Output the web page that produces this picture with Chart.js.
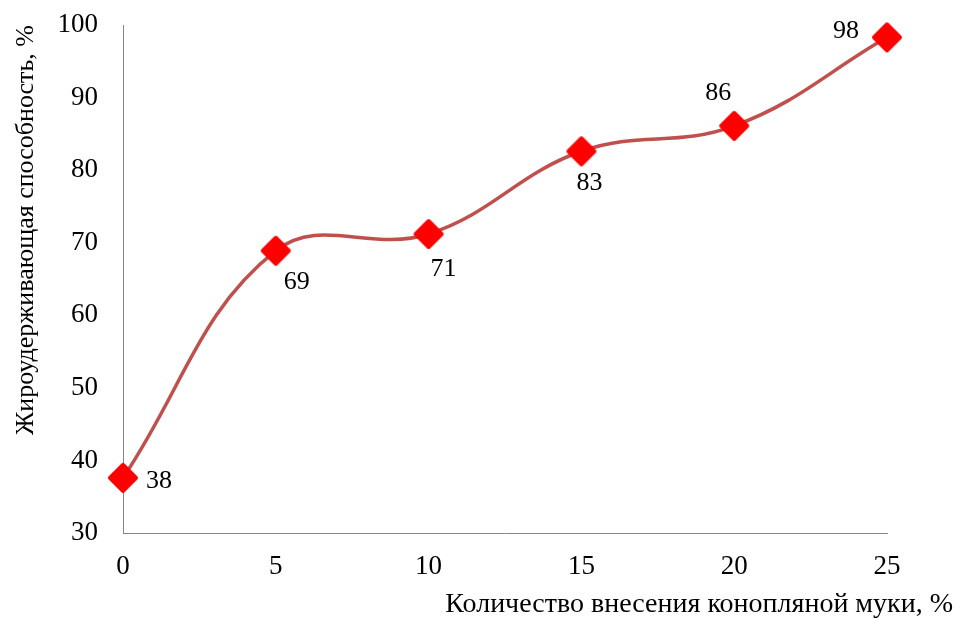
<!DOCTYPE html>
<html>
<head>
<meta charset="utf-8">
<script src="https://cdn.jsdelivr.net/npm/chart.js@4"></script>
<style>
  html, body { margin: 0; padding: 0; background: #fff; }
  #wrap { width: 955px; height: 619px; }
</style>
</head>
<body>
<div id="wrap"><canvas id="fatChart" width="955" height="619"></canvas></div>
<script>
// Доля конопляной муки, % и жироудерживающая способность, %
const flourShare = [0, 5, 10, 15, 20, 25];
const fatHolding = [37.6, 68.9, 71.2, 82.6, 86.1, 98.3];
const yTicks = [30, 40, 50, 60, 70, 80, 90, 100];

const xTitle = 'Количество внесения конопляной муки, %';
const yTitle = 'Жироудерживающая способность, %';

const lineColor = '#C0504D';
const markerColor = '#FF0000';
const axisColor = '#868686';
const textColor = '#000000';
const fontFamily = '"Liberation Serif", "Times New Roman", serif';

// смещения подписей значений относительно маркеров
const labelOffsets = [[36, 3], [21, 31], [15, 35], [8, 32], [-16, -33], [-41, -6]];

// маркер: ромб со скруглёнными углами
function makeDiamond() {
    const c = document.createElement('canvas');
    c.width = 32;
    c.height = 32;
    const ctx = c.getContext('2d');
    const r = 13;
    ctx.beginPath();
    ctx.moveTo(16, 16 - r);
    ctx.lineTo(16 + r, 16);
    ctx.lineTo(16, 16 + r);
    ctx.lineTo(16 - r, 16);
    ctx.closePath();
    ctx.fillStyle = markerColor;
    ctx.strokeStyle = markerColor;
    ctx.lineWidth = 4;
    ctx.lineJoin = 'round';
    ctx.fill();
    ctx.stroke();
    return c;
}

const valueLabels = {
    id: 'valueLabels',
    afterDatasetsDraw(chart) {
        const ctx = chart.ctx;
        const meta = chart.getDatasetMeta(0);
        ctx.save();
        ctx.font = '26px ' + fontFamily;
        ctx.fillStyle = textColor;
        ctx.textAlign = 'center';
        ctx.textBaseline = 'middle';
        meta.data.forEach((pt, i) => {
            const off = labelOffsets[i];
            ctx.fillText(String(Math.round(fatHolding[i])), pt.x + off[0], pt.y + off[1]);
        });
        ctx.restore();
    }
};

new Chart(document.getElementById('fatChart'), {
    type: 'line',
    data: {
        datasets: [{
            data: flourShare.map((x, i) => ({ x: x, y: fatHolding[i] })),
            borderColor: lineColor,
            borderWidth: 3.5,
            tension: 0.4,
            fill: false,
            pointStyle: makeDiamond(),
            pointRadius: 15,
            pointHoverRadius: 15,
            clip: false
        }]
    },
    options: {
        responsive: false,
        animation: false,
        layout: {
            autoPadding: false,
            padding: { top: 25, right: 2, bottom: 0, left: 11 }
        },
        plugins: {
            legend: { display: false },
            tooltip: { enabled: false },
            title: {
                display: true,
                text: xTitle,
                position: 'bottom',
                align: 'end',
                color: textColor,
                font: { family: fontFamily, size: 28, weight: 'normal', lineHeight: 1 },
                padding: { top: 5, bottom: 0 }
            }
        },
        scales: {
            x: {
                type: 'linear',
                min: 0,
                max: 25,
                afterFit(scale) {
                    scale.height = 53;
                    scale.paddingLeft = 0;
                    scale.paddingRight = 68;
                    scale.paddingTop = 0;
                    scale.paddingBottom = 0;
                },
                grid: { display: false, drawTicks: false },
                border: { display: true, color: axisColor, width: 1 },
                ticks: {
                    stepSize: 5,
                    padding: 18,
                    color: textColor,
                    font: { family: fontFamily, size: 27 }
                }
            },
            y: {
                min: 30,
                max: 100,
                afterBuildTicks(scale) { scale.ticks = yTicks.map(v => ({ value: v })); },
                afterFit(scale) {
                    scale.width = 112;
                    scale.paddingTop = 0;
                    scale.paddingBottom = 0;
                },
                grid: { display: false, drawTicks: false },
                border: { display: true, color: axisColor, width: 1 },
                title: {
                    display: true,
                    text: yTitle,
                    align: 'end',
                    color: textColor,
                    font: { family: fontFamily, size: 26 },
                    padding: { top: 0, bottom: 17 }
                },
                ticks: {
                    padding: 25,
                    color: textColor,
                    font: { family: fontFamily, size: 27 }
                }
            }
        }
    },
    plugins: [valueLabels]
});
</script>
</body>
</html>
